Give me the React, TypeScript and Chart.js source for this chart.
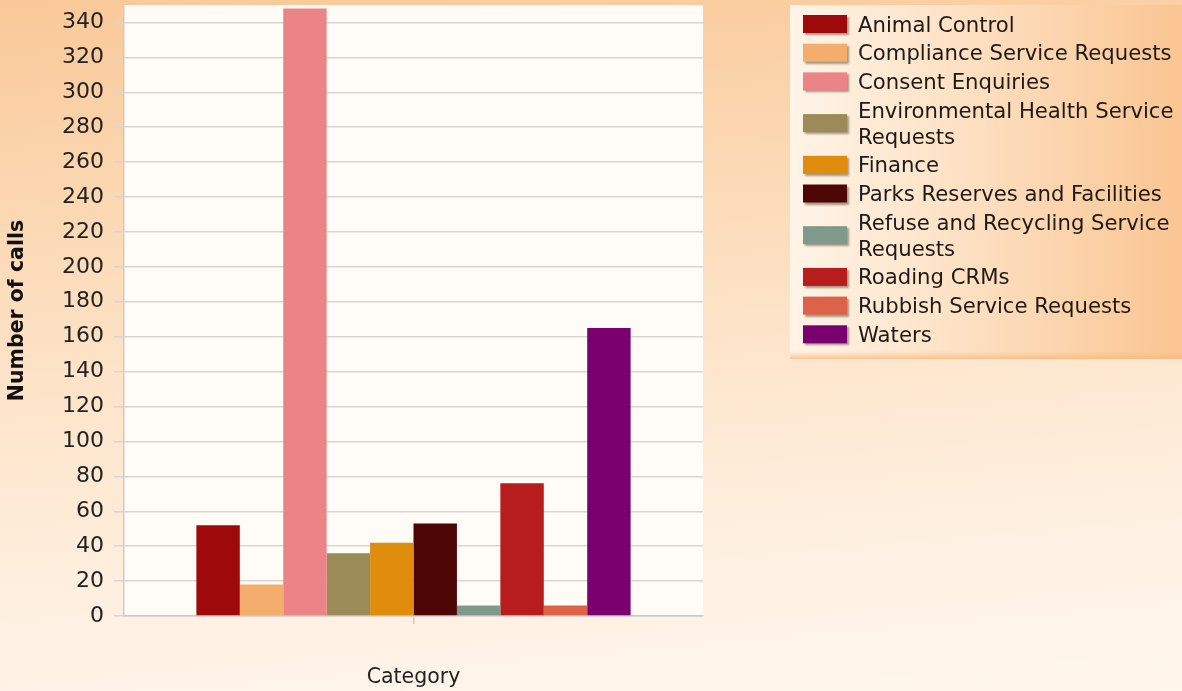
import React, { useEffect, useRef } from "react";
import { Chart, registerables } from "chart.js";

Chart.register(...registerables);

const categories: string[] = [""];
const seriesNames: string[] = [
  "Animal Control",
  "Compliance Service Requests",
  "Consent Enquiries",
  "Environmental Health Service Requests",
  "Finance",
  "Parks Reserves and Facilities",
  "Refuse and Recycling Service Requests",
  "Roading CRMs",
  "Rubbish Service Requests",
  "Waters",
];
const seriesValues: number[] = [52, 18, 348, 36, 42, 53, 6, 76, 6, 165];
const seriesColors: string[] = [
  "#9e0a0c",
  "#f4ad6c",
  "#ec8487",
  "#9a8b58",
  "#e08c0c",
  "#4e0506",
  "#7f9a8b",
  "#b81d1d",
  "#de6248",
  "#7a0070",
];
const yTickValues: number[] = [0, 20, 40, 60, 80, 100, 120, 140, 160, 180, 200, 220, 240, 260, 280, 300, 320, 340];
const yMin = 0;
const yMax = 350;
const xTitle = "Category";
const yTitle = "Number of calls";

const FONT = "'DejaVu Sans', Verdana, sans-serif";

function wrapText(ctx: CanvasRenderingContext2D, text: string, maxW: number): string[] {
  const words = text.split(" ");
  const lines: string[] = [];
  let cur = "";
  for (const w of words) {
    const test = cur ? cur + " " + w : w;
    if (ctx.measureText(test).width > maxW && cur) {
      lines.push(cur);
      cur = w;
    } else {
      cur = test;
    }
  }
  if (cur) lines.push(cur);
  return lines;
}

const plotBgPlugin = {
  id: "plotBg",
  beforeDraw(chart: any) {
    const { ctx, chartArea } = chart;
    ctx.save();
    ctx.fillStyle = "#fffcf7";
    ctx.fillRect(chartArea.left, chartArea.top, chartArea.right - chartArea.left, chartArea.bottom - chartArea.top);
    ctx.restore();
  },
};

const legendPlugin = {
  id: "sideLegend",
  afterDraw(chart: any) {
    const ctx: CanvasRenderingContext2D = chart.ctx;
    const bx = 790, by = 5, bw = 392, bh = 354;
    ctx.save();
    const g = ctx.createLinearGradient(bx, 0, bx + bw, 0);
    g.addColorStop(0, "#fff4e8");
    g.addColorStop(0.45, "#fde0c2");
    g.addColorStop(1, "#fac592");
    ctx.fillStyle = g;
    ctx.fillRect(bx, by, bw, bh);
    const g2 = ctx.createLinearGradient(0, by + bh - 8, 0, by + bh);
    g2.addColorStop(0, "rgba(250,190,130,0)");
    g2.addColorStop(1, "rgba(246,180,115,0.7)");
    ctx.fillStyle = g2;
    ctx.fillRect(bx, by + bh - 8, bw, 8);

    ctx.font = `21.2px ${FONT}`;
    ctx.textBaseline = "middle";
    ctx.textAlign = "left";
    const textX = 858;
    const boxX = 803, boxW = 44, boxH = 18;
    let y = 24;
    chart.data.datasets.forEach((ds: any) => {
      const lines = wrapText(ctx, ds.label, 322);
      const last = y + (lines.length - 1) * 26;
      const mid = (y + last) / 2;
      ctx.save();
      ctx.shadowColor = "rgba(60,40,20,0.45)";
      ctx.shadowOffsetX = 2;
      ctx.shadowOffsetY = 2;
      ctx.shadowBlur = 2;
      ctx.fillStyle = ds.backgroundColor;
      ctx.fillRect(boxX, mid - boxH / 2, boxW, boxH);
      ctx.restore();
      ctx.fillStyle = "#1e1a16";
      lines.forEach((ln, i) => ctx.fillText(ln, textX, y + i * 26 + 2));
      y = last + 28.7;
    });
    ctx.restore();
  },
};

export default function App() {
  const ref = useRef<HTMLCanvasElement | null>(null);
  useEffect(() => {
    if (!ref.current) return;
    const chart = new Chart(ref.current, {
      type: "bar",
      data: {
        labels: categories,
        datasets: seriesNames.map((name, i) => ({
          label: name,
          data: [seriesValues[i]],
          backgroundColor: seriesColors[i],
          borderWidth: 0,
          categoryPercentage: 0.75,
          barPercentage: 1.0,
        })),
      },
      options: {
        animation: false,
        responsive: false,
        devicePixelRatio: 1,
        layout: { padding: { top: 5, right: 479, left: 0, bottom: 0 } },
        plugins: {
          legend: { display: false },
          tooltip: { enabled: false },
        },
        scales: {
          x: {
            grid: {
              display: true,
              drawOnChartArea: false,
              drawTicks: true,
              offset: false,
              tickLength: 8,
              color: "#cfc9c3",
              lineWidth: 1.5,
            },
            border: { display: true, color: "#cfc9c3", width: 1.5 },
            ticks: { display: false },
            title: {
              display: true,
              text: xTitle,
              color: "#222222",
              font: { family: FONT, size: 20.5 },
              padding: { top: 0, bottom: 1 },
            },
            afterFit: (s: any) => {
              s.height = 75;
            },
          },
          y: {
            min: yMin,
            max: yMax,
            ticks: {
              color: "#222222",
              font: { family: FONT, size: 22 },
              padding: 10,
            },
            afterBuildTicks: (s: any) => {
              s.ticks = yTickValues.map((v) => ({ value: v }));
            },
            grid: {
              color: "#dad5d0",
              lineWidth: 1.5,
              tickLength: 10,
            },
            border: { display: true, color: "#cfcac5", width: 1.5 },
            title: {
              display: true,
              text: yTitle,
              color: "#111111",
              font: { family: FONT, size: 20.5, weight: "bold" },
              padding: { top: 5, bottom: 0 },
            },
            afterFit: (s: any) => {
              s.width = 124;
              s.paddingTop = 0;
              s.paddingBottom = 0;
            },
          },
        },
      },
      plugins: [plotBgPlugin, legendPlugin],
    });
    return () => chart.destroy();
  }, []);
  return (
    <div
      style={{
        position: "fixed",
        left: 0,
        top: 0,
        width: 1182,
        height: 691,
        background:
          "linear-gradient(175deg, #f9c898 0%, #fbd4ac 20%, #fde4c9 50%, #fef1e3 80%, #fff6ec 100%)",
      }}
    >
      <canvas ref={ref} width={1182} height={691} style={{ display: "block", width: 1182, height: 691 }} />
    </div>
  );
}
